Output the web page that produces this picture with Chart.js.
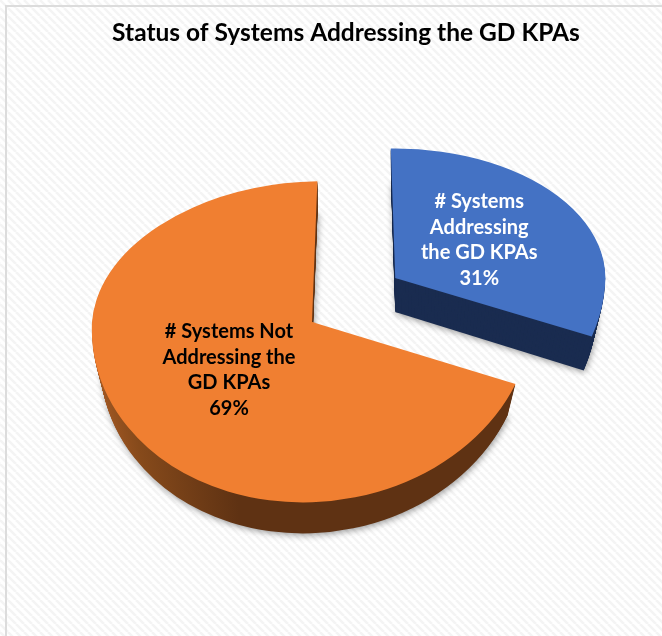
<!DOCTYPE html>
<html><head><meta charset="utf-8">
<style>html,body{margin:0;padding:0;background:#fff}#w{position:absolute;left:0;top:0;width:662px;height:636px}</style>
<script src="https://cdn.jsdelivr.net/npm/chart.js@4"></script>
</head><body><div id="w"><canvas id="c" width="662" height="636"></canvas></div>
<script>
const titleText = 'Status of Systems Addressing the GD KPAs';
const categoryLines = [
  ['# Systems', 'Addressing', 'the GD KPAs'],
  ['# Systems Not', 'Addressing the', 'GD KPAs']
];
const categories = categoryLines.map(l => l.join(' '));
const values = [31, 69];
const faceColors = ['#4472C4', '#F07F31'];
const labelColors = ['#FFFFFF', '#000000'];

// 3-D look: vertical squash above/below each slice's apex, depth, slice scale, perspective shear
const PIVOT_Y = 322, SHIFT_X = -34, K_TOP = [0.616, 0.64], K_BOTTOM = 0.82, K_OFFSET = 0.735, DEPTH = [34, 31];
const SLICE_SCALE = [0.925, 1];
const SHEAR_TOP = [0, -0.079], SHEAR_BOTTOM = [-0.02, -0.05];
const LABEL_SHIFT = [[84, -38], [-83, 48]];

const hatch = (() => {
  const s = document.createElement('canvas'); s.width = s.height = 8;
  const g = s.getContext('2d');
  g.fillStyle = '#ffffff'; g.fillRect(0, 0, 8, 8);
  g.strokeStyle = '#f4f4f4'; g.lineWidth = 2.6;
  g.beginPath();
  for (let i = -8; i <= 8; i += 8) { g.moveTo(i, 0); g.lineTo(i + 8, 8); }
  g.stroke();
  return g.createPattern(s, 'repeat');
})();

function arcProxy(el, color) {
  const p = Object.create(el);
  p.options = { backgroundColor: color, borderColor: color, borderWidth: 0, borderAlign: 'center',
    borderRadius: 0, borderDash: [], borderDashOffset: 0, borderJoinStyle: 'round',
    offset: el.options.offset, spacing: 0, circular: true };
  return p;
}

const pie3d = {
  id: 'pie3d',
  beforeDraw(chart) {
    const c = chart.ctx;
    c.save();
    c.fillStyle = hatch; c.fillRect(0, 0, 662, 636);
    c.strokeStyle = '#dcdcdc'; c.lineWidth = 2;
    c.strokeRect(6, 6, 680, 680);
    c.restore();
  },
  beforeDatasetsDraw(chart) {
    const c = chart.ctx, meta = chart.getDatasetMeta(0), W = chart.width, H = chart.height;
    const sideBrown = c.createLinearGradient(92, 0, 280, 0);
    sideBrown.addColorStop(0, '#B8632A'); sideBrown.addColorStop(0.45, '#864A1B'); sideBrown.addColorStop(1, '#5F3213');
    const sides = ['#1A2C50', sideBrown];
    const order = [1, 0];
    const drawPiece = (el, idx, color, d, shadow) => {
      const half = (el.startAngle + el.endAngle) / 2, off = (el.options.offset || 0) / 4;
      const ax = el.x + Math.cos(half) * off, ayRaw = el.y + Math.sin(half) * off;
      const ay = PIVOT_Y + (ayRaw - el.y) * K_OFFSET;
      const sx = SLICE_SCALE[idx] * (1 - 0.0012 * d), sy = SLICE_SCALE[idx];
      [[K_TOP[idx], -1, SHEAR_TOP[idx]], [K_BOTTOM, 1, SHEAR_BOTTOM[idx]]].forEach(([k, side, sh]) => {
        c.save();
        c.beginPath();
        if (side < 0) c.rect(0, 0, W, ay + d + 0.5); else c.rect(0, ay + d, W, H);
        c.clip();
        if (shadow) { c.shadowColor = 'rgba(0,0,0,0.38)'; c.shadowBlur = 6; c.shadowOffsetX = 1; c.shadowOffsetY = 2; }
        c.translate(ax + SHIFT_X, ay + d);
        c.transform(1, 0, sh, 1, 0, 0);
        c.scale(sx, k * sy);
        c.translate(-ax, -ayRaw);
        arcProxy(el, color).draw(c);
        c.restore();
      });
    };
    order.forEach(i => {
      const el = meta.data[i];
      const d = DEPTH[i];
      drawPiece(el, i, sides[i], d, true);
      for (let k = d - 1; k > 0; k--) drawPiece(el, i, sides[i], k, false);
      drawPiece(el, i, faceColors[i], 0, false);
    });
    // data labels
    order.forEach(i => {
      const el = meta.data[i];
      const half = (el.startAngle + el.endAngle) / 2, off = (el.options.offset || 0) / 4;
      const ax = el.x + Math.cos(half) * off + SHIFT_X;
      const ay = PIVOT_Y + Math.sin(half) * off * K_OFFSET;
      const lines = categoryLines[i].concat([values[i] + '%']);
      c.save();
      c.font = 'bold 20px Lato, "Open Sans", sans-serif';
      c.fillStyle = labelColors[i]; c.textAlign = 'center'; c.textBaseline = 'middle';
      lines.forEach((t, n) => {
        c.fillText(t, ax + LABEL_SHIFT[i][0], ay + LABEL_SHIFT[i][1] + (n - 1.5) * 25.8);
      });
      c.restore();
    });
    return false;
  }
};

new Chart(document.getElementById('c'), {
  type: 'pie',
  data: { labels: categories, datasets: [{ data: values, backgroundColor: faceColors, borderWidth: 0, offset: [410, 0] }] },
  options: {
    responsive: false, animation: false, rotation: -1.5, radius: 220,
    layout: { padding: { left: 30 } },
    plugins: {
      legend: { display: false }, tooltip: { enabled: false },
      title: { display: true, text: titleText, color: '#000', align: 'center',
        font: { family: 'Lato, "Open Sans", sans-serif', size: 24.5, weight: 'bold' },
        padding: { top: 18, bottom: 8 } }
    }
  },
  plugins: [pie3d]
});
</script></body></html>
